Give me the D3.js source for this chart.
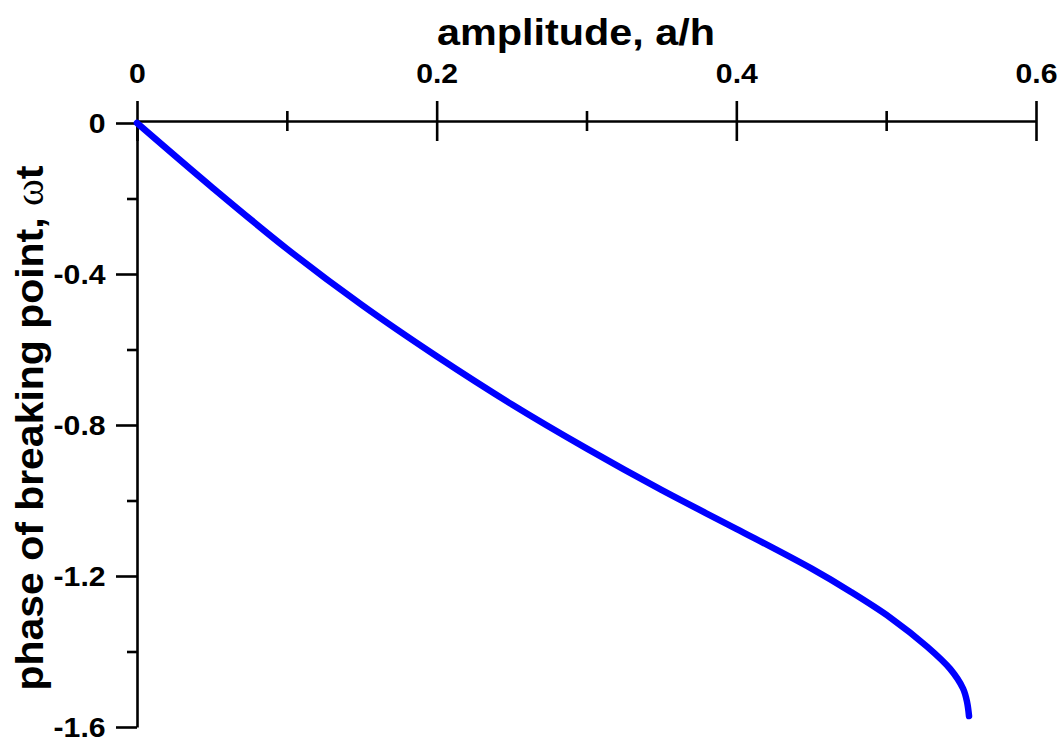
<!DOCTYPE html>
<html>
<head>
<meta charset="utf-8">
<script src="https://cdn.jsdelivr.net/npm/d3@7"></script>
<style>
  body { margin: 0; background: #fff; }
  text { font-family: "Liberation Sans", Arial, sans-serif; font-weight: bold; fill: #000; }
</style>
</head>
<body>
<div id="chart"></div>
<script>
// amplitude a/h vs phase of breaking point
var amplitude = [0, 0.05, 0.1, 0.15, 0.2, 0.25, 0.3, 0.35, 0.4, 0.45, 0.476, 0.5027, 0.5273, 0.5427, 0.5513, 0.554, 0.5553];
var phase     = [0, -0.170, -0.333, -0.482, -0.618, -0.745, -0.862, -0.972, -1.075, -1.180, -1.241, -1.310, -1.387, -1.446, -1.498, -1.534, -1.571];

var xMajor = [0, 0.2, 0.4, 0.6];
var xMinor = [0.1, 0.3, 0.5];
var yMajor = [0, -0.4, -0.8, -1.2, -1.6];
var yMinor = [-0.2, -0.6, -1.0, -1.4];

var W = 1057, H = 742;

var svg = d3.select("#chart").append("svg")
    .attr("width", W)
    .attr("height", H);

var x = d3.scaleLinear().domain([0, 0.6]).range([137, 1036]);
var y = d3.scaleLinear().domain([0, -1.6]).range([123, 727]);

var fmt = function(d) { return d === 0 ? "0" : d.toFixed(1); };

//************************************************************
// top x axis
//************************************************************
var axTop = 121;

var gXminor = svg.append("g")
    .attr("transform", "translate(0," + axTop + ")")
    .call(d3.axisTop(x).tickValues(xMinor).tickSize(10).tickSizeOuter(0).tickFormat(""));
gXminor.select(".domain").remove();
gXminor.selectAll(".tick line").attr("y1", 10);

var gX = svg.append("g")
    .attr("transform", "translate(0," + axTop + ")")
    .call(d3.axisTop(x).tickValues(xMajor).tickSize(20).tickSizeOuter(0).tickPadding(18).tickFormat(fmt));
gX.selectAll(".tick line").attr("y1", 20);
gX.selectAll(".tick text")
    .style("font-size", "27px")
    .attr("transform", "scale(1.12,1)");

//************************************************************
// left y axis
//************************************************************
var gYminor = svg.append("g")
    .attr("transform", "translate(137,0)")
    .call(d3.axisLeft(y).tickValues(yMinor).tickSize(10).tickSizeOuter(0).tickFormat(""));
gYminor.select(".domain").remove();

var gY = svg.append("g")
    .attr("transform", "translate(137,0)")
    .call(d3.axisLeft(y).tickValues(yMajor).tickSize(21).tickSizeOuter(0).tickFormat(fmt));
gY.selectAll(".tick text")
    .style("font-size", "27px")
    .attr("x", -28)
    .attr("dy", "0.36em")
    .attr("transform", "scale(1.12,1)");

svg.selectAll(".domain, .tick line")
    .attr("stroke", "#000")
    .attr("stroke-width", 2.6);
svg.selectAll(".tick text").attr("fill", "#000");

//************************************************************
// labels
//************************************************************
svg.append("text")
    .attr("x", 576)
    .attr("y", 45)
    .attr("text-anchor", "middle")
    .style("font-size", "37px")
    .attr("textLength", 278)
    .attr("lengthAdjust", "spacingAndGlyphs")
    .text("amplitude, a/h");

var ylab = svg.append("text")
    .attr("transform", "translate(43,428) rotate(-90)")
    .attr("text-anchor", "middle")
    .style("font-size", "39px")
    .attr("textLength", 525)
    .attr("lengthAdjust", "spacingAndGlyphs");
ylab.append("tspan").text("phase of breaking point, ");
ylab.append("tspan")
    .style("font-family", "'Liberation Serif', 'DejaVu Serif', serif")
    .style("font-weight", "normal")
    .text("\u03c9");
ylab.append("tspan").text("t");

//************************************************************
// curve
//************************************************************
var pts = amplitude.map(function(a, i) { return [a, phase[i]]; });

var line = d3.line()
    .x(function(d) { return x(d[0]); })
    .y(function(d) { return y(d[1]); })
    .curve(d3.curveCatmullRom.alpha(0.5));

svg.append("path")
    .datum(pts)
    .attr("d", line)
    .attr("fill", "none")
    .attr("stroke", "#0000ff")
    .attr("stroke-width", 6.5)
    .attr("stroke-linecap", "round")
    .attr("stroke-linejoin", "round");
</script>
</body>
</html>
